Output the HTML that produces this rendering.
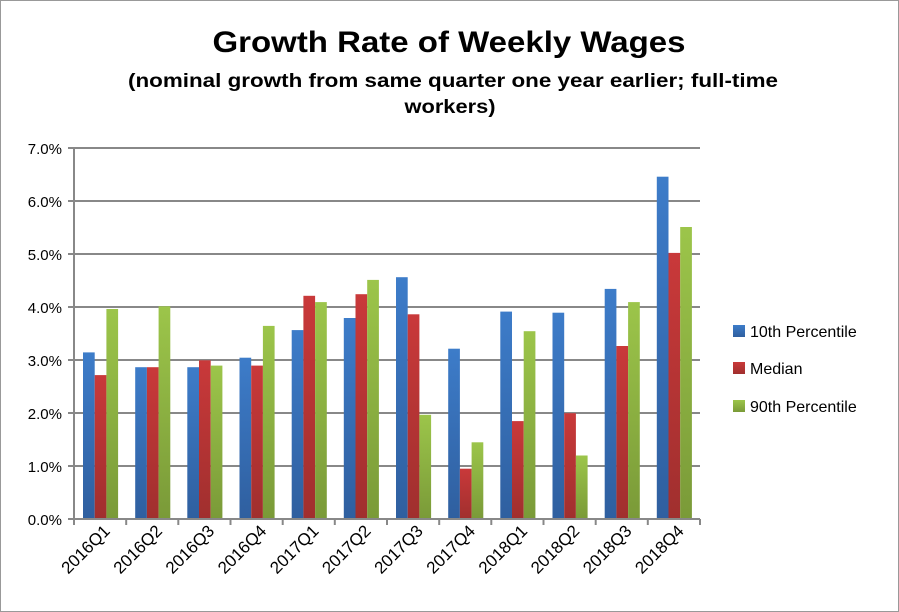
<!DOCTYPE html>
<html><head><meta charset="utf-8"><style>
html,body{margin:0;padding:0;background:#fff;}
svg{display:block;font-family:"Liberation Sans",sans-serif;}
</style></head><body>
<svg width="899" height="612" viewBox="0 0 899 612" xmlns="http://www.w3.org/2000/svg">
<defs>
<linearGradient id="gb" x1="0" y1="0" x2="0" y2="1"><stop offset="0" stop-color="#3d7cc9"/><stop offset="1" stop-color="#2f5f9f"/></linearGradient>
<linearGradient id="gr" x1="0" y1="0" x2="0" y2="1"><stop offset="0" stop-color="#c9393a"/><stop offset="1" stop-color="#a02f2e"/></linearGradient>
<linearGradient id="gg" x1="0" y1="0" x2="0" y2="1"><stop offset="0" stop-color="#9cc54a"/><stop offset="1" stop-color="#7a9a38"/></linearGradient>
</defs>
<rect x="0.5" y="0.5" width="898" height="611" fill="#fff" stroke="#999"/>
<text x="449" y="52" text-anchor="middle" font-weight="bold" font-size="30" textLength="473" lengthAdjust="spacingAndGlyphs">Growth Rate of Weekly Wages</text>
<text x="453" y="87" text-anchor="middle" font-weight="bold" font-size="19" textLength="650" lengthAdjust="spacingAndGlyphs">(nominal growth from same quarter one year earlier; full-time</text>
<text x="450" y="113" text-anchor="middle" font-weight="bold" font-size="19" textLength="91" lengthAdjust="spacingAndGlyphs">workers)</text>
<g stroke="#888" stroke-width="2">
<line x1="68" y1="148" x2="700" y2="148"/><line x1="68" y1="201" x2="700" y2="201"/><line x1="68" y1="254" x2="700" y2="254"/><line x1="68" y1="307" x2="700" y2="307"/><line x1="68" y1="360" x2="700" y2="360"/><line x1="68" y1="413" x2="700" y2="413"/><line x1="68" y1="466" x2="700" y2="466"/>
<line x1="74" y1="148" x2="74" y2="525"/>
</g>
<g font-size="15" text-anchor="end">
<text x="62" y="154">7.0%</text><text x="62" y="207">6.0%</text><text x="62" y="260">5.0%</text><text x="62" y="313">4.0%</text><text x="62" y="366">3.0%</text><text x="62" y="419">2.0%</text><text x="62" y="472">1.0%</text><text x="62" y="525">0.0%</text>
</g>
<g>
<rect x="83" y="352.4" width="11.7" height="166.6" fill="url(#gb)"/><rect x="94.7" y="375.1" width="11.7" height="143.9" fill="url(#gr)"/><rect x="106.4" y="309" width="11.7" height="210" fill="url(#gg)"/>
<rect x="135.2" y="367.2" width="11.7" height="151.8" fill="url(#gb)"/><rect x="146.9" y="367.2" width="11.7" height="151.8" fill="url(#gr)"/><rect x="158.6" y="306.3" width="11.7" height="212.7" fill="url(#gg)"/>
<rect x="187.3" y="367.2" width="11.7" height="151.8" fill="url(#gb)"/><rect x="199" y="360.3" width="11.7" height="158.7" fill="url(#gr)"/><rect x="210.7" y="365.6" width="11.7" height="153.4" fill="url(#gg)"/>
<rect x="239.5" y="357.7" width="11.7" height="161.3" fill="url(#gb)"/><rect x="251.2" y="365.6" width="11.7" height="153.4" fill="url(#gr)"/><rect x="262.9" y="325.9" width="11.7" height="193.1" fill="url(#gg)"/>
<rect x="291.7" y="330.1" width="11.7" height="188.9" fill="url(#gb)"/><rect x="303.4" y="295.8" width="11.7" height="223.2" fill="url(#gr)"/><rect x="315.1" y="302.1" width="11.7" height="216.9" fill="url(#gg)"/>
<rect x="343.8" y="318" width="11.7" height="201" fill="url(#gb)"/><rect x="355.5" y="294.2" width="11.7" height="224.8" fill="url(#gr)"/><rect x="367.2" y="279.9" width="11.7" height="239.1" fill="url(#gg)"/>
<rect x="396" y="277.2" width="11.7" height="241.8" fill="url(#gb)"/><rect x="407.7" y="314.3" width="11.7" height="204.7" fill="url(#gr)"/><rect x="419.4" y="414.8" width="11.7" height="104.2" fill="url(#gg)"/>
<rect x="448.2" y="348.7" width="11.7" height="170.3" fill="url(#gb)"/><rect x="459.9" y="468.7" width="11.7" height="50.3" fill="url(#gr)"/><rect x="471.6" y="442.3" width="11.7" height="76.7" fill="url(#gg)"/>
<rect x="500.3" y="311.6" width="11.7" height="207.4" fill="url(#gb)"/><rect x="512" y="421.1" width="11.7" height="97.9" fill="url(#gr)"/><rect x="523.7" y="331.2" width="11.7" height="187.8" fill="url(#gg)"/>
<rect x="552.5" y="312.7" width="11.7" height="206.3" fill="url(#gb)"/><rect x="564.2" y="413.2" width="11.7" height="105.8" fill="url(#gr)"/><rect x="575.9" y="455.5" width="11.7" height="63.5" fill="url(#gg)"/>
<rect x="604.7" y="288.9" width="11.7" height="230.1" fill="url(#gb)"/><rect x="616.4" y="346" width="11.7" height="173" fill="url(#gr)"/><rect x="628.1" y="302.1" width="11.7" height="216.9" fill="url(#gg)"/>
<rect x="656.8" y="176.7" width="11.7" height="342.3" fill="url(#gb)"/><rect x="668.5" y="252.9" width="11.7" height="266.1" fill="url(#gr)"/><rect x="680.2" y="227" width="11.7" height="292" fill="url(#gg)"/>
</g>
<line x1="68" y1="519" x2="700" y2="519" stroke="#888" stroke-width="2"/>
<g stroke="#888" stroke-width="2">
<line x1="74" y1="519" x2="74" y2="525"/><line x1="126.2" y1="519" x2="126.2" y2="525"/><line x1="178.3" y1="519" x2="178.3" y2="525"/><line x1="230.5" y1="519" x2="230.5" y2="525"/><line x1="282.7" y1="519" x2="282.7" y2="525"/><line x1="334.8" y1="519" x2="334.8" y2="525"/><line x1="387" y1="519" x2="387" y2="525"/><line x1="439.2" y1="519" x2="439.2" y2="525"/><line x1="491.3" y1="519" x2="491.3" y2="525"/><line x1="543.5" y1="519" x2="543.5" y2="525"/><line x1="595.7" y1="519" x2="595.7" y2="525"/><line x1="647.8" y1="519" x2="647.8" y2="525"/><line x1="700" y1="519" x2="700" y2="525"/>
</g>
<g font-size="17" text-anchor="end">
<text transform="translate(111,532) rotate(-45)">2016Q1</text>
<text transform="translate(163.2,532) rotate(-45)">2016Q2</text>
<text transform="translate(215.3,532) rotate(-45)">2016Q3</text>
<text transform="translate(267.5,532) rotate(-45)">2016Q4</text>
<text transform="translate(319.7,532) rotate(-45)">2017Q1</text>
<text transform="translate(371.8,532) rotate(-45)">2017Q2</text>
<text transform="translate(424,532) rotate(-45)">2017Q3</text>
<text transform="translate(476.2,532) rotate(-45)">2017Q4</text>
<text transform="translate(528.3,532) rotate(-45)">2018Q1</text>
<text transform="translate(580.5,532) rotate(-45)">2018Q2</text>
<text transform="translate(632.7,532) rotate(-45)">2018Q3</text>
<text transform="translate(684.8,532) rotate(-45)">2018Q4</text>
</g>
<rect x="733" y="325" width="12" height="12" fill="url(#gb)"/>
<rect x="733" y="362" width="12" height="12" fill="url(#gr)"/>
<rect x="733" y="400" width="12" height="12" fill="url(#gg)"/>
<g font-size="16"><text x="750" y="337">10th Percentile</text><text x="750" y="374">Median</text><text x="750" y="412">90th Percentile</text></g>
</svg>
</body></html>
